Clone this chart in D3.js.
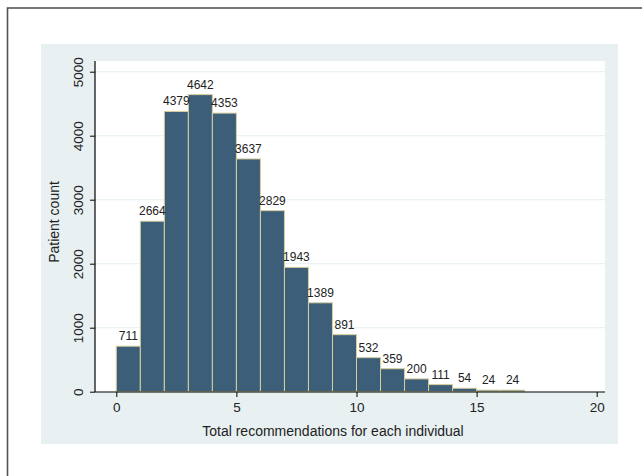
<!DOCTYPE html>
<html><head><meta charset="utf-8">
<script src="https://cdn.jsdelivr.net/npm/d3@7"></script>
<style>body{margin:0;background:#fff}svg{display:block}</style>
</head><body>
<svg id="c" width="642" height="476"></svg>
<script>
const binStarts = [0,1,2,3,4,5,6,7,8,9,10,11,12,13,14,15,16];
const counts = [711,2664,4379,4642,4353,3637,2829,1943,1389,891,532,359,200,111,54,24,24];
const xTicks = [0,5,10,15,20];
const yTicks = [0,1000,2000,3000,4000,5000];
const xTitle = "Total recommendations for each individual";
const yTitle = "Patient count";

const svg = d3.select("#c");
const font = "Arial, 'Liberation Sans', sans-serif";
// outer border
svg.append("rect").attr("x",7.5).attr("y",8).attr("width",660).attr("height",500)
  .attr("fill","none").attr("stroke","#555").attr("stroke-width",1.6);
// background panel
svg.append("rect").attr("x",41).attr("y",44).attr("width",577).attr("height",400).attr("fill","#e8f0f2");
const L=95, R=605, T=61, B=392;
svg.append("rect").attr("x",L).attr("y",T).attr("width",R-L).attr("height",B-T).attr("fill","#fff");

const x = d3.scaleLinear().domain([0,20]).range([116.3,596.7]);
const y = d3.scaleLinear().domain([0,5000]).range([391.7,71.7]);

// grid
svg.append("g").selectAll("line").data(yTicks.filter(d=>d>0)).join("line")
  .attr("x1",L).attr("x2",R).attr("y1",d=>y(d)).attr("y2",d=>y(d))
  .attr("stroke","#eaf2f3").attr("stroke-width",1.2);

// bars
svg.append("g").selectAll("rect").data(counts).join("rect")
  .attr("x",(d,i)=>x(binStarts[i]))
  .attr("width",(d,i)=>x(binStarts[i]+1)-x(binStarts[i]))
  .attr("y",d=>y(d)).attr("height",d=>y(0)-y(d))
  .attr("fill","#3d5e78").attr("stroke","#d6cf9c").attr("stroke-width",1);

// labels
svg.append("g").selectAll("text").data(counts).join("text")
  .attr("x",(d,i)=>x(binStarts[i]+0.5)).attr("y",d=>y(d)-6)
  .attr("text-anchor","middle").attr("font-family",font).attr("font-size",12)
  .attr("fill","#222").text(d=>d);

// axes
const xa = svg.append("g").attr("transform",`translate(0,${B})`)
  .call(d3.axisBottom(x).tickValues(xTicks).tickSize(5).tickSizeOuter(0).tickPadding(5).tickFormat(d3.format("d")));
xa.select(".domain").remove();
xa.append("line").attr("x1",L).attr("x2",R).attr("stroke","#000").attr("stroke-width",1.2);
xa.selectAll("text").attr("font-family",font).attr("font-size",13.5).attr("fill","#222");
xa.selectAll(".tick line").attr("stroke","#000");

const ya = svg.append("g").attr("transform",`translate(${L},0)`)
  .call(d3.axisLeft(y).tickValues(yTicks).tickSize(5).tickSizeOuter(0).tickFormat(d3.format("d")));
ya.select(".domain").remove();
ya.append("line").attr("y1",T).attr("y2",B).attr("stroke","#000").attr("stroke-width",1.2);
ya.selectAll(".tick line").attr("stroke","#000");
ya.selectAll(".tick text").attr("font-family",font).attr("font-size",13.5).attr("fill","#222")
  .attr("text-anchor","middle")
  .attr("transform","translate(-17,0) rotate(-90)").attr("x",0).attr("y",0).attr("dy","0.35em");

svg.append("text").attr("x",333).attr("y",436).attr("text-anchor","middle")
  .attr("font-family",font).attr("font-size",14).attr("fill","#222").text(xTitle);
svg.append("text").attr("transform","translate(59,222) rotate(-90)").attr("text-anchor","middle")
  .attr("font-family",font).attr("font-size",14).attr("fill","#222").text(yTitle);
</script>
</body></html>
